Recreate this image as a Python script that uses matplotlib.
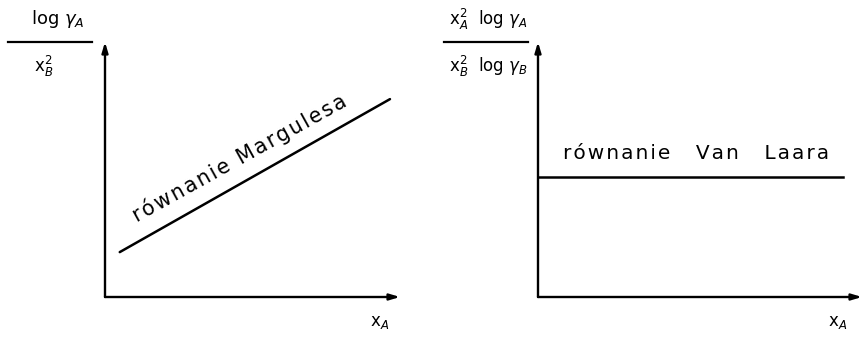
import matplotlib as mpl
import matplotlib.pyplot as plt
from matplotlib.lines import Line2D

mpl.rcParams['font.family'] = 'DejaVu Sans'

# Margules: log(gA)/xB^2 grows linearly with xA
margules_x = [0.05, 0.966]
margules_y = [0.176, 0.776]

# Van Laar: ratio stays constant
vanlaar_x = [0.0, 0.94]
vanlaar_y = [0.47, 0.47]

W, H = 864, 338


def px(x, y):
    return x / W, 1 - y / H


def spaced(s):
    # loose letter spacing, like the old plotter lettering
    return '\u200a'.join(s)


def arrow_axes(ax):
    for s in ax.spines.values():
        s.set_visible(False)
    ax.set_xticks([])
    ax.set_yticks([])
    ax.set_xlim(0, 1)
    ax.set_ylim(0, 1)
    style = dict(arrowstyle='-|>,head_length=0.6,head_width=0.18', color='black', lw=1.7,
                 shrinkA=0, shrinkB=0)
    ax.annotate('', xy=(0, 1.0), xytext=(0, 0), xycoords='axes fraction', arrowprops=style)
    ax.annotate('', xy=(1.0, 0), xytext=(0, 0), xycoords='axes fraction', arrowprops=style)


fig = plt.figure(figsize=(8.64, 3.38), dpi=100)

l0, b0 = px(105, 297)
l1, t1 = px(400, 42)
ax1 = fig.add_axes([l0, b0, l1 - l0, t1 - b0])
arrow_axes(ax1)
ax1.plot(margules_x, margules_y, color='black', lw=1.8, solid_capstyle='round')
ax1.text(0.108, 0.294, spaced('równanie Margulesa'), rotation=29.0, rotation_mode='anchor',
         ha='left', va='baseline', fontsize=14.8, transform=ax1.transAxes)

r0, rb = px(538, 297)
r1, rt = px(862, 42)
ax2 = fig.add_axes([r0, rb, r1 - r0, rt - rb])
arrow_axes(ax2)
ax2.plot(vanlaar_x, vanlaar_y, color='black', lw=1.8)
ax2.text(0.078, 0.541, spaced('równanie') + '    ' + spaced('Van') + '    ' + spaced('Laara'),
         ha='left', va='baseline', fontsize=14.5, transform=ax2.transAxes)

# axis titles as fractions
fig.text(*px(380, 322), r'x$_A$', fontsize=12, ha='center', va='center')
fig.text(*px(838, 322), r'x$_A$', fontsize=12, ha='center', va='center')

fig.text(*px(58, 19), r'log $\gamma_A$', fontsize=13, ha='center', va='center')
fig.add_artist(Line2D([8 / W, 92 / W], [1 - 42 / H] * 2, color='black', lw=1.6))
fig.text(*px(44, 66), r'x$_B^2$', fontsize=12, ha='center', va='center')

fig.text(*px(488, 19), r'x$_A^2$  log $\gamma_A$', fontsize=12, ha='center', va='center')
fig.add_artist(Line2D([444 / W, 528 / W], [1 - 42 / H] * 2, color='black', lw=1.6))
fig.text(*px(488, 66), r'x$_B^2$  log $\gamma_B$', fontsize=12, ha='center', va='center')

plt.savefig('out.png', dpi=100)
